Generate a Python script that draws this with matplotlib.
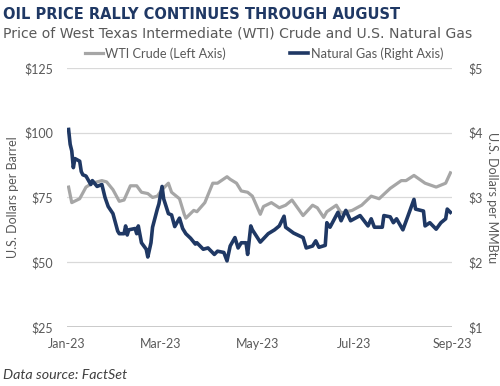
import numpy as np
import pandas as pd
import matplotlib
matplotlib.use("Agg")
import matplotlib.pyplot as plt
import matplotlib.dates as mdates
from matplotlib.ticker import FuncFormatter

# WTI crude, $/barrel
wti_dates = ["2023-01-02", "2023-01-04", "2023-01-09", "2023-01-13", "2023-01-17",
             "2023-01-23", "2023-01-26", "2023-01-30", "2023-02-03", "2023-02-06",
             "2023-02-10", "2023-02-14", "2023-02-17", "2023-02-21", "2023-02-24",
             "2023-02-27", "2023-03-02", "2023-03-06", "2023-03-08", "2023-03-13",
             "2023-03-16", "2023-03-17", "2023-03-22", "2023-03-24", "2023-03-29",
             "2023-04-03", "2023-04-06", "2023-04-12", "2023-04-14", "2023-04-18",
             "2023-04-21", "2023-04-25", "2023-04-28", "2023-05-03", "2023-05-05",
             "2023-05-10", "2023-05-15", "2023-05-19", "2023-05-23", "2023-05-30",
             "2023-06-05", "2023-06-08", "2023-06-12", "2023-06-14", "2023-06-20",
             "2023-06-23", "2023-06-30", "2023-07-06", "2023-07-12", "2023-07-17",
             "2023-07-24", "2023-07-31", "2023-08-03", "2023-08-08", "2023-08-15",
             "2023-08-22", "2023-08-28", "2023-08-31"]
wti_values = [79.0, 73.0, 74.5, 79.0, 80.5,
              81.5, 81.0, 78.0, 73.5, 74.0,
              79.5, 79.5, 77.0, 76.5, 75.0,
              75.5, 78.0, 80.5, 77.0, 74.5,
              68.5, 67.0, 70.0, 69.5, 73.0,
              80.5, 80.5, 83.0, 82.0, 80.5,
              77.5, 77.0, 75.5, 68.5, 71.5,
              73.0, 71.0, 72.0, 74.0, 68.0,
              72.0, 71.0, 67.3, 69.5, 72.0,
              69.0, 70.0, 72.0, 75.5, 74.5,
              78.5, 81.5, 81.5, 83.5, 80.5,
              79.0, 80.5, 84.5]

# US natural gas, $/MMBtu
gas_dates = ["2023-01-02", "2023-01-03", "2023-01-04", "2023-01-05", "2023-01-06",
             "2023-01-09", "2023-01-10", "2023-01-11", "2023-01-13", "2023-01-16",
             "2023-01-17", "2023-01-20", "2023-01-23", "2023-01-24", "2023-01-25",
             "2023-01-27", "2023-01-30", "2023-01-31", "2023-02-02", "2023-02-03",
             "2023-02-06", "2023-02-07", "2023-02-08", "2023-02-09", "2023-02-13",
             "2023-02-14", "2023-02-15", "2023-02-17", "2023-02-20", "2023-02-21",
             "2023-02-23", "2023-02-24", "2023-02-27", "2023-02-28", "2023-03-02",
             "2023-03-03", "2023-03-06", "2023-03-08", "2023-03-10", "2023-03-13",
             "2023-03-15", "2023-03-17", "2023-03-20", "2023-03-23", "2023-03-24",
             "2023-03-28", "2023-03-31", "2023-04-04", "2023-04-06", "2023-04-10",
             "2023-04-12", "2023-04-14", "2023-04-17", "2023-04-19", "2023-04-21",
             "2023-04-24", "2023-04-25", "2023-04-27", "2023-04-28", "2023-05-03",
             "2023-05-08", "2023-05-12", "2023-05-15", "2023-05-18", "2023-05-19",
             "2023-05-24", "2023-05-30", "2023-06-01", "2023-06-05", "2023-06-07",
             "2023-06-09", "2023-06-13", "2023-06-14", "2023-06-16", "2023-06-21",
             "2023-06-23", "2023-06-26", "2023-06-29", "2023-07-05", "2023-07-10",
             "2023-07-12", "2023-07-14", "2023-07-19", "2023-07-20", "2023-07-24",
             "2023-07-26", "2023-07-28", "2023-08-01", "2023-08-04", "2023-08-08",
             "2023-08-09", "2023-08-14", "2023-08-15", "2023-08-18", "2023-08-22",
             "2023-08-25", "2023-08-28", "2023-08-29", "2023-08-31"]
gas_values = [4.05, 3.82, 3.72, 3.46, 3.60,
              3.56, 3.40, 3.35, 3.33, 3.20,
              3.26, 3.17, 3.20, 3.10, 3.00,
              2.86, 2.75, 2.66, 2.48, 2.44,
              2.44, 2.56, 2.42, 2.50, 2.52,
              2.44, 2.56, 2.30, 2.20, 2.08,
              2.30, 2.54, 2.82, 2.90, 3.17,
              2.98, 2.75, 2.73, 2.55, 2.68,
              2.52, 2.44, 2.37, 2.28, 2.30,
              2.20, 2.22, 2.12, 2.17, 2.15,
              2.02, 2.25, 2.38, 2.22, 2.30,
              2.30, 2.12, 2.56, 2.50, 2.31,
              2.44, 2.50, 2.56, 2.71, 2.54,
              2.45, 2.38, 2.22, 2.25, 2.33,
              2.23, 2.26, 2.61, 2.54, 2.77,
              2.64, 2.80, 2.64, 2.72, 2.56,
              2.67, 2.54, 2.54, 2.72, 2.70,
              2.61, 2.67, 2.50, 2.70, 2.97,
              2.82, 2.79, 2.56, 2.61, 2.51,
              2.61, 2.67, 2.82, 2.77]

left_ticks = [25, 50, 75, 100, 125]
right_ticks = [1, 2, 3, 4, 5]
x_ticks = ["2023-01-01", "2023-03-01", "2023-05-01", "2023-07-01", "2023-09-01"]

navy = "#1F3864"
grey_line = "#A6A6A6"
txt = "#595959"
plt.rcParams["font.family"] = ["Lato", "DejaVu Sans"]

fig = plt.figure(figsize=(5.0, 3.86), dpi=100)
ax = fig.add_axes([0.134, 0.153, 0.770, 0.671])
ax2 = ax.twinx()

wti_x = pd.to_datetime(wti_dates)
gas_x = pd.to_datetime(gas_dates)
l1, = ax.plot(wti_x, wti_values, color=grey_line, lw=2.3, label="WTI Crude (Left Axis)", zorder=3)
l2, = ax2.plot(gas_x, gas_values, color=navy, lw=2.6, label="Natural Gas (Right Axis)", zorder=4)

ax.set_ylim(25, 125)
ax2.set_ylim(1, 5)
ax.set_yticks(left_ticks)
ax2.set_yticks(right_ticks)
ax.yaxis.set_major_formatter(FuncFormatter(lambda v, p: f"${v:.0f}"))
ax2.yaxis.set_major_formatter(FuncFormatter(lambda v, p: f"${v:.0f}"))
ax.set_xlim(pd.Timestamp("2023-01-01"), pd.Timestamp("2023-09-01"))
ax.set_xticks(pd.to_datetime(x_ticks))
ax.xaxis.set_major_formatter(mdates.DateFormatter("%b-%y"))

for a in (ax, ax2):
    for s in a.spines.values():
        s.set_visible(False)
    a.tick_params(length=0, labelsize=9, colors=txt)
ax.tick_params(axis="y", pad=10)
ax2.tick_params(axis="y", pad=12)
ax.tick_params(axis="x", pad=8)
ax.grid(axis="y", color="#D9D9D9", lw=0.9, zorder=0)
ax.axhline(25, color="#BFBFBF", lw=1.2, zorder=1)

ax.set_ylabel("U.S. Dollars per Barrel", color=txt, fontsize=9, labelpad=4)
ax2.set_ylabel("U.S. Dollars per MMBtu", color=txt, fontsize=9, rotation=270, labelpad=11)

fig.legend(handles=[l1, l2], loc="center", bbox_to_anchor=(0.528, 0.862), ncol=2,
           frameon=False, fontsize=9.2, labelcolor=txt, handlelength=1.4,
           handletextpad=0.2, columnspacing=5.0)

fig.text(0.006, 0.962, "OIL PRICE RALLY CONTINUES THROUGH AUGUST", color=navy,
         fontsize=10.5, fontweight="bold", family="DejaVu Sans", va="center")
fig.text(0.006, 0.912, "Price of West Texas Intermediate (WTI) Crude and U.S. Natural Gas",
         color=txt, fontsize=10.1, family="DejaVu Sans", va="center")
fig.text(0.006, 0.028, "Data source: FactSet", color="#404040", fontsize=10.3,
         style="italic", va="center")

fig.savefig("out.png", dpi=100)
